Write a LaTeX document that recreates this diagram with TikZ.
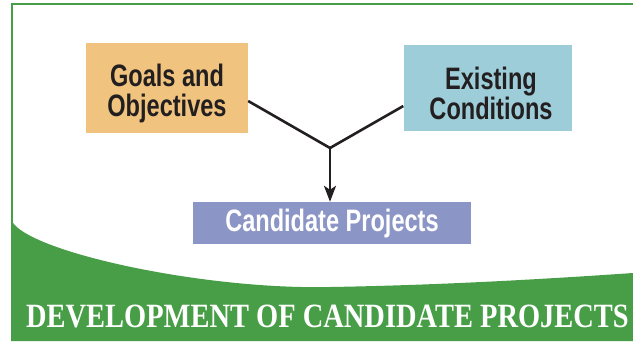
\documentclass[tikz,border=0pt]{standalone}
\usepackage{fontspec}
\usetikzlibrary{arrows.meta}
\newfontfamily\boxfont{Liberation Sans}[FakeStretch=0.76]
\newfontfamily\bannerfont{Liberation Serif}[FakeStretch=0.837]
\definecolor{bandgreen}{RGB}{71,158,71}
\definecolor{goalfill}{RGB}{240,196,126}
\definecolor{condfill}{RGB}{157,205,216}
\definecolor{candfill}{RGB}{140,150,198}
\definecolor{inkdark}{RGB}{35,31,32}
\tikzset{
  px/.style={x=1pt,y=-1pt},
  inputbox/.style={draw=none,inner sep=0pt,align=center,text=inkdark,text depth=0pt,
    font=\boxfont\bfseries\fontsize{31}{30}\selectfont},
  outputbox/.style={draw=none,fill=candfill,inner sep=0pt,align=center,text=white,
    text height=22.6pt,text depth=5.6pt,
    font=\boxfont\bfseries\fontsize{31}{30}\selectfont},
  bannertext/.style={text=white,anchor=base,inner sep=0pt,
    font=\bannerfont\bfseries\fontsize{34}{34}\selectfont},
  flowline/.style={draw=inkdark,line width=2.6pt},
}
\begin{document}
\begin{tikzpicture}[px]
  \useasboundingbox (0,0) rectangle (633,341);
  \fill[white] (0,0) rectangle (633,341);
  % frame line along top and left
  \draw[bandgreen,line width=2.2pt] (633,4) -- (12,4) -- (12,225);
  % curved green banner at the bottom
  \fill[bandgreen] (11,219) .. controls (20,250) and (200,290) .. (330,287)
     .. controls (450,285) and (560,278) .. (633,273) -- (633,341) -- (11,341) -- cycle;
  \node[bannertext] (banner) at (327.5,327) {DEVELOPMENT OF CANDIDATE PROJECTS};

  % boxes
  \node[inputbox,fill=goalfill,minimum width=162pt,minimum height=90pt,text height=57pt]
     (goals) at (167,88) {Goals and\\Objectives};
  \node[inputbox,fill=condfill,minimum width=168pt,minimum height=86pt,text height=62pt]
     (cond) at (487.5,88) {\hspace*{7pt}Existing\\\hspace*{7pt}Conditions};
  \node[outputbox,minimum width=278pt,minimum height=42pt] (cand) at (332,223)
     {Candidate Projects};

  % connectors
  \coordinate (merge) at (330,148);
  \draw[flowline] (goals.east |- 0,101) -- (merge);
  \draw[flowline] (cond.west |- 0,106) -- (merge);
  \draw[flowline,-{Stealth[length=16pt,width=12pt,inset=4pt]}] (merge) -- (merge |- cand.north);
\end{tikzpicture}
\end{document}
